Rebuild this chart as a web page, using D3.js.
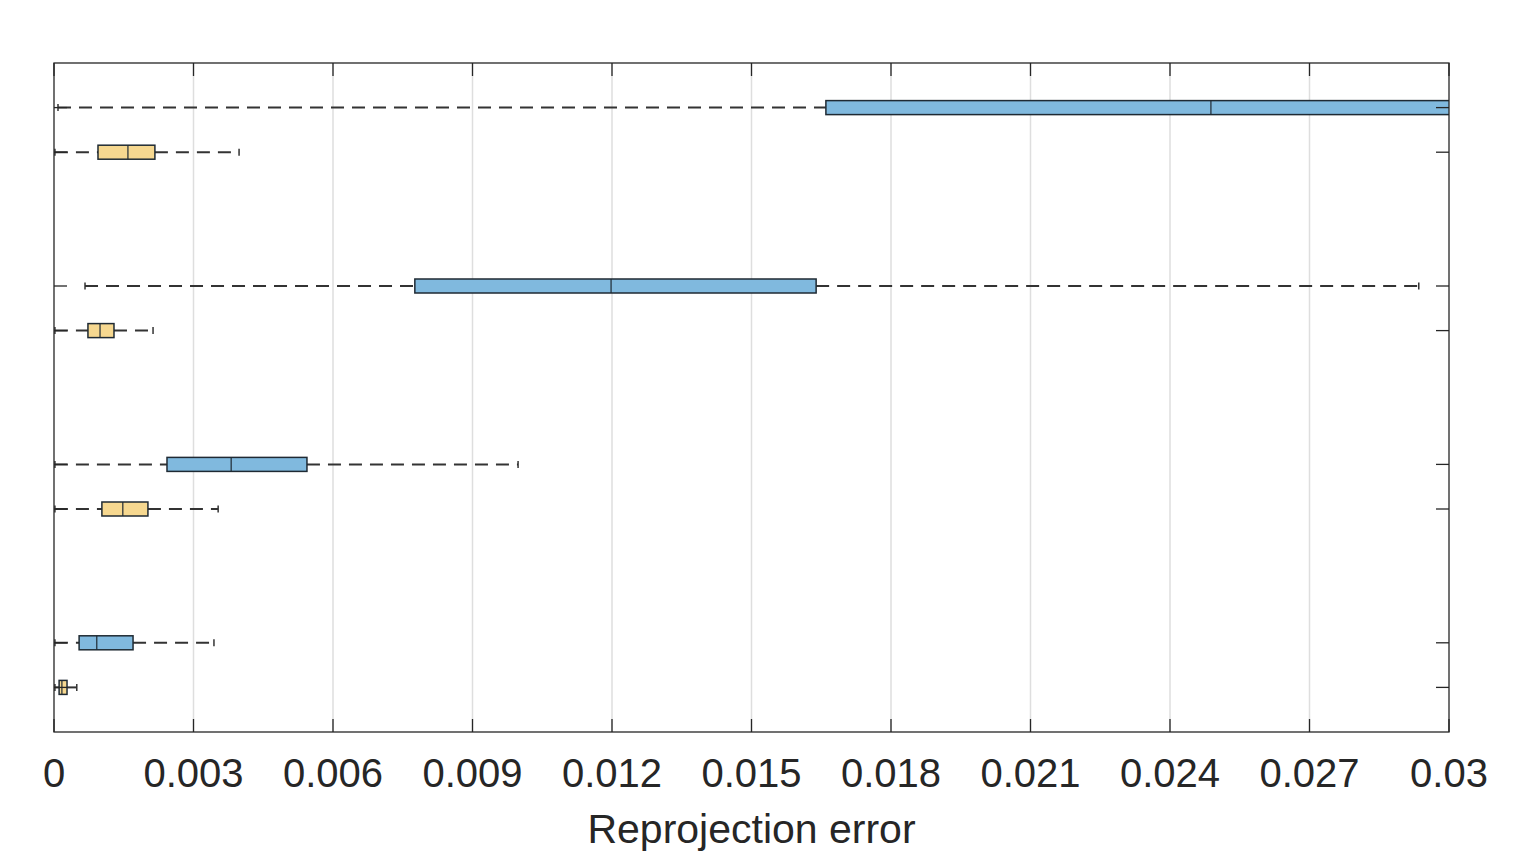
<!DOCTYPE html>
<html>
<head>
<meta charset="utf-8">
<script src="https://cdn.jsdelivr.net/npm/d3@7"></script>
<style>
  body { margin: 0; background: #fff; }
  svg text { font-family: "Liberation Sans", Arial, Helvetica, sans-serif; fill: #262626; }
</style>
</head>
<body>
<div id="chart"></div>
<script>
const width = 1527,
    height = 853,
    margin = { top: 63, right: 78, bottom: 121, left: 54 };

// box positions (group ± offset), top to bottom
const positions = [0.875, 1.125, 1.875, 2.125, 2.875, 3.125, 3.875, 4.125];
const series = ["blue", "yellow", "blue", "yellow", "blue", "yellow", "blue", "yellow"];
const whiskerLow = [0.000086, 0.00002, 0.000667, 0.00002, 0.00002, 0.00002, 0.00002, 0.00002];
const q1 = [0.0166, 0.000946, 0.00776, 0.00073, 0.00243, 0.00103, 0.00054, 0.00011];
const median = [0.02488, 0.00159, 0.01198, 0.00099, 0.00381, 0.00148, 0.00092, 0.00017];
const q3 = [0.034, 0.00217, 0.01639, 0.00129, 0.00544, 0.00202, 0.0017, 0.00028];
const whiskerHigh = [0.05, 0.00398, 0.02935, 0.00213, 0.00998, 0.00353, 0.00344, 0.00049];

const xTicks = [0, 0.003, 0.006, 0.009, 0.012, 0.015, 0.018, 0.021, 0.024, 0.027, 0.03];
const xTickLabels = ["0", "0.003", "0.006", "0.009", "0.012", "0.015", "0.018", "0.021", "0.024", "0.027", "0.03"];

const data = positions.map((p, i) => ({
    pos: p, type: series[i],
    lo: whiskerLow[i], q1: q1[i], med: median[i], q3: q3[i], hi: whiskerHigh[i]
}));

const x = d3.scaleLinear().domain([0, 0.03]).range([margin.left, width - margin.right]);
const y = d3.scaleLinear().domain([0.625, 4.375]).range([margin.top, height - margin.bottom]);
const fill = d3.scaleOrdinal().domain(["blue", "yellow"]).range(["#80b9de", "#f6d890"]);

const svg = d3.select("#chart").append("svg")
    .attr("width", width)
    .attr("height", height);

svg.append("defs").append("clipPath").attr("id", "clip")
    .append("rect")
    .attr("x", margin.left).attr("y", margin.top)
    .attr("width", width - margin.left - margin.right)
    .attr("height", height - margin.top - margin.bottom);

// Grid
svg.append("g")
    .selectAll("line")
    .data(xTicks.slice(1, -1))
    .join("line")
    .attr("x1", d => x(d)).attr("x2", d => x(d))
    .attr("y1", margin.top).attr("y2", height - margin.bottom)
    .attr("stroke", "#dedede")
    .attr("stroke-width", 1.5);

const boxH = 14;
const plot = svg.append("g").attr("clip-path", "url(#clip)");

const rows = plot.selectAll("g.row")
    .data(data)
    .join("g")
    .attr("class", "row");

// whiskers
rows.append("line")
    .attr("x1", d => x(d.lo)).attr("x2", d => x(d.q1))
    .attr("y1", d => y(d.pos)).attr("y2", d => y(d.pos))
    .attr("stroke", "#333").attr("stroke-width", 2)
    .attr("stroke-dasharray", "13,8");
rows.append("line")
    .attr("x1", d => x(d.q3)).attr("x2", d => x(d.hi))
    .attr("y1", d => y(d.pos)).attr("y2", d => y(d.pos))
    .attr("stroke", "#333").attr("stroke-width", 2)
    .attr("stroke-dasharray", "13,8");
// whisker caps
rows.selectAll("line.cap")
    .data(d => [[d.lo, d.pos], [d.hi, d.pos]])
    .join("line")
    .attr("class", "cap")
    .attr("x1", d => x(d[0])).attr("x2", d => x(d[0]))
    .attr("y1", d => y(d[1]) - 3.5).attr("y2", d => y(d[1]) + 3.5)
    .attr("stroke", "#333").attr("stroke-width", 1.5);

// boxes
rows.append("rect")
    .attr("x", d => x(d.q1))
    .attr("y", d => y(d.pos) - boxH / 2)
    .attr("width", d => x(d.q3) - x(d.q1))
    .attr("height", boxH)
    .attr("fill", d => fill(d.type))
    .attr("stroke", "#1f2a33")
    .attr("stroke-width", 1.5);
rows.append("line")
    .attr("x1", d => x(d.med)).attr("x2", d => x(d.med))
    .attr("y1", d => y(d.pos) - boxH / 2).attr("y2", d => y(d.pos) + boxH / 2)
    .attr("stroke", "#1f2a33").attr("stroke-width", 1.2);

// Axes (MATLAB style box, inward ticks)
const tickLen = 13;
const axisColor = "#262626";
const x0 = margin.left, x1 = width - margin.right, y0 = margin.top, y1 = height - margin.bottom;

const ax = svg.append("g").attr("stroke", axisColor).attr("stroke-width", 1.3);
ax.selectAll("line.yl")
    .data(positions)
    .join("line")
    .attr("x1", x0).attr("x2", x0 + tickLen)
    .attr("y1", d => y(d)).attr("y2", d => y(d));
ax.selectAll("line.yr")
    .data(positions)
    .join("line")
    .attr("x1", x1 - tickLen).attr("x2", x1)
    .attr("y1", d => y(d)).attr("y2", d => y(d));
ax.selectAll("line.xb")
    .data(xTicks)
    .join("line")
    .attr("x1", d => x(d)).attr("x2", d => x(d))
    .attr("y1", y1 - tickLen).attr("y2", y1);
ax.selectAll("line.xt")
    .data(xTicks)
    .join("line")
    .attr("x1", d => x(d)).attr("x2", d => x(d))
    .attr("y1", y0).attr("y2", y0 + tickLen);

svg.append("rect")
    .attr("x", x0).attr("y", y0)
    .attr("width", x1 - x0).attr("height", y1 - y0)
    .attr("fill", "none")
    .attr("stroke", axisColor)
    .attr("stroke-width", 1.3);

// Tick labels
svg.append("g")
    .selectAll("text")
    .data(xTicks)
    .join("text")
    .attr("x", d => x(d))
    .attr("y", y1 + 55)
    .attr("text-anchor", "middle")
    .style("font-size", "40px")
    .text((d, i) => xTickLabels[i]);

// Axis label
svg.append("text")
    .attr("x", (x0 + x1) / 2)
    .attr("y", y1 + 111)
    .attr("text-anchor", "middle")
    .style("font-size", "41px")
    .text("Reprojection error");
</script>
</body>
</html>
